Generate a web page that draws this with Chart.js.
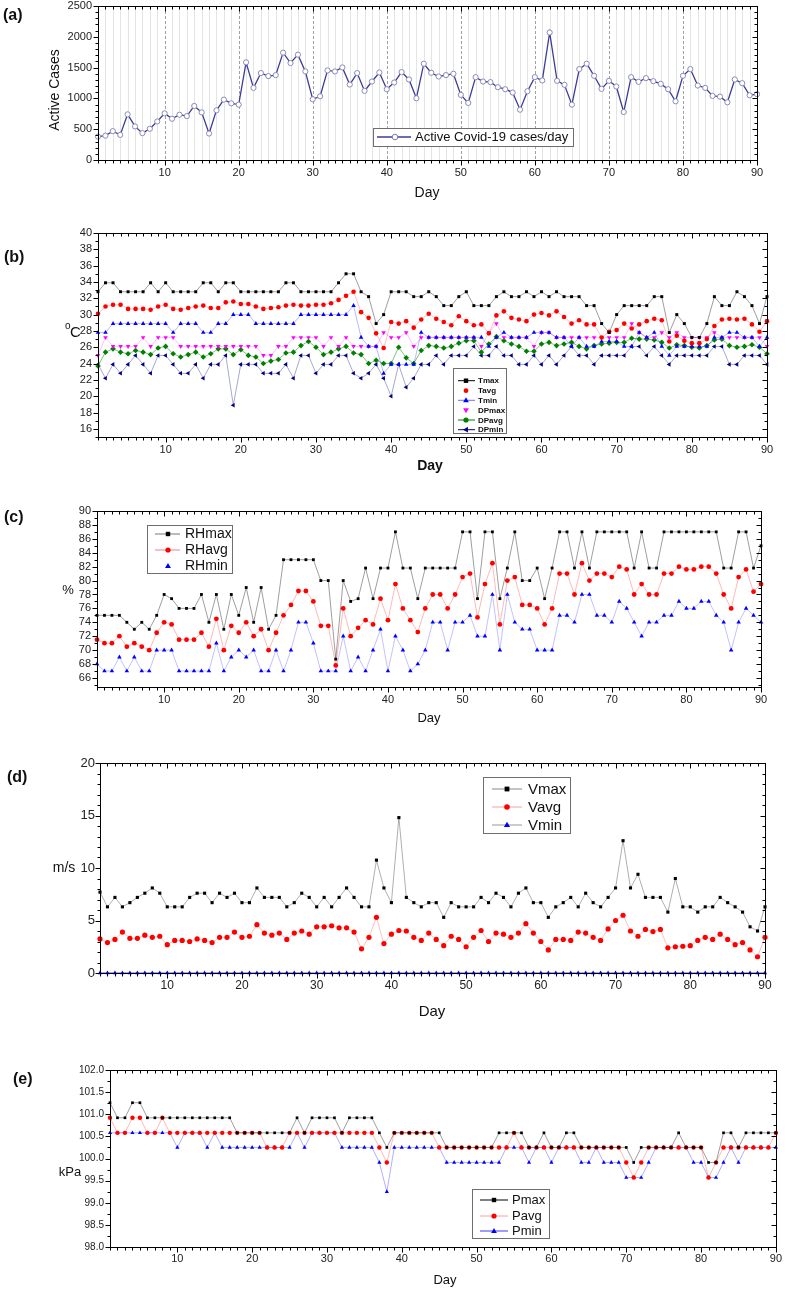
<!DOCTYPE html>
<html><head><meta charset="utf-8">
<script src="https://cdn.jsdelivr.net/npm/chart.js@4.4.1/dist/chart.umd.min.js"></script>
<style>
html,body{margin:0;padding:0;background:#fff;width:787px;height:1290px;overflow:hidden;position:relative}
canvas{position:absolute;left:0}
</style></head><body>
<canvas id="ca"></canvas>
<canvas id="cb"></canvas>
<canvas id="cc"></canvas>
<canvas id="cd"></canvas>
<canvas id="ce"></canvas>
<script>
// ---------- DATA ----------
const days = [1,2,3,4,5,6,7,8,9,10,11,12,13,14,15,16,17,18,19,20,21,22,23,24,25,26,27,28,29,30,31,32,33,34,35,36,37,38,39,40,41,42,43,44,45,46,47,48,49,50,51,52,53,54,55,56,57,58,59,60,61,62,63,64,65,66,67,68,69,70,71,72,73,74,75,76,77,78,79,80,81,82,83,84,85,86,87,88,89,90];
const xTickLabels = [10,20,30,40,50,60,70,80,90];

const activeCases = [380,395,468,408,741,545,436,507,626,757,670,735,713,877,773,430,806,980,920,899,1585,1171,1411,1362,1378,1743,1574,1710,1438,986,1035,1454,1438,1503,1225,1411,1122,1274,1421,1149,1258,1427,1307,1002,1563,1416,1356,1378,1400,1057,926,1345,1274,1264,1182,1149,1095,817,1117,1345,1291,2070,1285,1220,899,1476,1563,1367,1155,1285,1193,779,1345,1269,1329,1280,1236,1149,953,1367,1476,1209,1171,1040,1029,937,1307,1247,1051,1068];

const tmax = [32.8,33.9,33.9,32.8,32.8,32.8,32.8,33.9,32.8,33.9,32.8,32.8,32.8,32.8,33.9,33.9,32.8,33.9,33.9,32.8,32.8,32.8,32.8,32.8,32.8,33.9,33.9,32.8,32.8,32.8,32.8,32.8,33.9,35,35,32.8,32.2,28.9,30,32.8,32.8,32.8,32.2,32.2,32.8,32.2,31.1,31.1,32.2,32.8,31.1,31.1,31.1,32.2,32.8,32.2,32.2,32.8,32.2,32.8,32.2,32.8,32.2,32.2,32.2,31.1,31.1,28.9,27.8,30,31.1,31.1,31.1,31.1,32.2,32.2,27.8,30,28.9,27.2,27.2,28.9,32.2,31.1,31.1,32.8,32.2,31.1,28.9,32.2];
const tavg = [30.1,31.0,31.2,31.2,30.7,30.7,30.7,30.6,31.0,31.2,30.7,30.6,30.8,31.0,31.1,30.8,30.8,31.5,31.6,31.3,31.3,31.0,30.7,30.8,30.9,31.1,31.2,31.1,31.1,31.2,31.2,31.4,31.8,32.3,32.8,30.3,29.6,27.7,25.9,29.1,28.9,29.2,28.4,29.4,30.1,29.5,29.1,28.7,29.8,29.2,28.7,28.8,27.7,29.9,30.4,29.6,29.4,29.2,30.0,30.2,29.9,30.4,29.7,28.9,29.3,28.8,28.8,27.2,27.9,28.1,28.9,28.3,28.8,29.2,29.5,29.3,26.7,27.4,26.8,26.5,26.5,27.0,28.6,29.4,29.5,29.4,29.5,28.8,27.9,29.2];
const tmin = [27.8,27.8,28.9,28.9,28.9,28.9,28.9,28.9,28.9,28.9,27.8,28.9,28.9,28.9,27.8,27.8,28.9,28.9,30,30,30,28.9,28.9,28.9,28.9,28.9,28.9,30,30,30,30,30,30,30,31.1,27.2,26.1,26.1,22.8,23.9,23.9,23.9,23.9,27.8,27.2,27.2,27.2,27.2,27.2,27.2,27.2,27.2,26.1,27.2,27.8,27.2,27.2,27.2,27.8,27.8,27.8,27.2,27.2,26.1,27.2,26.1,26.1,26.7,26.7,26.7,26.1,26.1,27.8,27.2,27.8,26.1,25,26.1,26.1,26.1,26.1,26.1,27.2,27.2,27.8,27.8,27.2,27.2,26.1,27.2];
const dpmax = [25,27.2,26.1,26.1,26.1,26.1,27.2,26.1,27.2,27.2,27.2,26.1,26.1,26.1,26.1,26.1,26.1,26.1,26.1,26.1,26.1,26.1,25,25,26.1,26.1,27.2,27.2,27.2,27.2,26.1,27.2,26.1,27.2,26.1,26.1,26.1,26.1,27.8,27.2,27.2,27.8,26.1,27.2,27.2,27.2,27.2,27.2,27.2,27.2,27.2,26.1,27.8,28.9,27.2,27.2,27.2,27.2,26.1,27.8,27.8,27.2,27.2,27.2,27.2,27.2,27.2,27.2,27.2,27.2,27.2,28.9,27.8,27.2,27.2,27.8,27.2,27.8,27.2,27.2,27.2,27.2,27.8,27.2,27.2,27.2,27.2,27.2,27.2,26.1];
const dpavg = [23.7,25.4,25.8,25.4,25.2,25.6,25.4,25.1,25.9,26.1,25.2,24.8,25.1,25.4,24.8,25.2,25.8,25.8,25.1,25.7,25.0,24.8,24.0,24.3,24.5,25.3,25.4,26.2,26.7,26.0,25.1,25.4,25.8,26.1,25.3,25.1,24.0,24.4,24.0,24.0,26.0,24.7,24.0,25.6,26.2,26.1,25.9,26.1,26.5,26.8,26.8,25.4,26.4,27.3,26.8,26.4,26.1,25.5,25.5,26.4,26.6,26.2,26.4,26.6,26.1,25.8,26.2,26.4,26.5,26.6,26.6,27.1,27.0,27.0,26.9,26.6,25.9,26.3,26.2,26.0,25.9,26.2,26.9,27.0,26.2,26.0,26.1,26.3,26.0,25.2];
const dpmin = [23.9,22.2,23.9,22.8,23.9,25,23.9,22.8,25,25,23.9,22.8,22.8,23.9,22.2,23.9,23.9,25,18.9,23.9,23.9,23.9,22.8,22.8,22.8,23.9,22.2,25,25,22.8,23.9,23.9,25,25,22.8,22.2,22.8,23.9,22.2,20,23.9,21.1,22.2,23.9,23.9,25,23.9,25,25,25,26.1,25,25,26.1,25,25,23.9,23.9,25,23.9,25,23.9,25,26.1,25,25,23.9,25,25,25,25,26.1,26.1,25,26.1,25,23.9,25,25,25,25,25,26.1,26.1,23.9,23.9,25,25,25,23.9];

const rhmax = [75,75,75,75,74,73,74,73,75,78,77.4,76,76,76,78,74,78,73,78,75,79,74,79,73,75,83,83,83,83,83,80,80,68.7,80,77,77.4,81.8,77.4,81.8,81.8,87,81.8,81.8,77.4,81.8,81.8,81.8,81.8,81.8,87,87,77.4,87,87,77.4,81.8,87,80,80,81.8,77.4,81.8,87,87,81.8,87,81.8,87,87,87,87,87,81.8,87,81.8,81.8,87,87,87,87,87,87,87,87,81.8,81.8,87,87,81.8,85];
const rhavg = [71.5,71,71,72,70.5,71,70.5,70,72.5,74,73.7,71.5,71.5,71.5,72.5,70.5,74.5,70,73.5,72.5,74,72,73,70,72.5,75,76.5,78.5,78.5,77,73.5,73.5,67.8,76,72,73.2,74.3,73.7,77.4,74.3,79.5,76,74.3,72.6,76,78,78,76,78,80.5,81,74.7,79.5,82.5,73.7,80,80.5,76.5,76.5,76,73.7,76,81,81,78,82.5,80,81,81,80.5,82,81.6,78,79.5,78,78,81,81,82,81.6,81.6,82,82,81,78,76,80.5,81.6,78.4,79.5];
const rhmin = [68,67,67,69,67,69,67,67,70,70,70,67,67,67,67,67,71,67,69,70,69,70,67,67,70,67,70,74,74,71,67,67,67,72,67,69,67,70,73,67,72,70,67,68,70,74,74,70,74,74,75,72,72,78,70,78,74,73,73,70,70,70,75,75,74,78,78,75,75,74,77,76,74,72,74,74,75,75,77,76,76,77,77,75,74,70,74,76,75,74];

const vmax = [7.7,6.3,7.2,6.3,6.7,7.2,7.6,8.1,7.6,6.3,6.3,6.3,7.2,7.6,7.6,6.7,7.6,7.2,7.6,6.7,6.7,8.1,7.2,7.2,7.2,6.3,6.7,7.6,7.2,6.3,7.2,6.3,7.2,8.1,7.2,6.3,6.3,10.75,8.1,6.7,14.8,7.2,6.7,6.3,6.7,6.7,5.3,6.7,6.3,6.3,6.3,7.2,6.7,7.6,7.2,6.3,7.6,8.1,6.7,6.7,5.3,6.3,6.7,7.2,6.3,7.6,6.7,6.3,7.2,8.1,12.6,8.1,9.4,7.2,7.2,7.2,5.8,9.0,6.3,6.3,5.8,6.3,6.3,7.2,6.7,6.3,5.8,4.4,4.0,6.3];
const vavg = [3.25,2.9,3.2,3.9,3.3,3.3,3.6,3.4,3.5,2.7,3.1,3.1,3.0,3.25,3.1,2.9,3.4,3.4,3.9,3.4,3.5,4.6,3.8,3.6,3.8,3.2,3.8,4.0,3.7,4.4,4.4,4.5,4.3,4.3,3.9,2.3,3.4,5.3,2.8,3.7,4.05,4.0,3.4,3.1,3.8,3.2,2.6,3.5,3.2,2.5,3.4,4.05,3.0,3.8,3.7,3.4,3.8,4.7,3.8,3.0,2.2,3.2,3.2,3.1,3.9,3.8,3.4,3.1,4.2,5.0,5.5,4.0,3.5,4.15,3.95,4.15,2.4,2.5,2.55,2.6,3.1,3.4,3.2,3.7,3.2,2.7,2.9,2.2,1.55,3.4];
const vmin = [0,0,0,0,0,0,0,0,0,0,0,0,0,0,0,0,0,0,0,0,0,0,0,0,0,0,0,0,0,0,0,0,0,0,0,0,0,0,0,0,0,0,0,0,0,0,0,0,0,0,0,0,0,0,0,0,0,0,0,0,0,0,0,0,0,0,0,0,0,0,0,0,0,0,0,0,0,0,0,0,0,0,0,0,0,0,0,0,0,0];

const pmax = [101.26,100.92,100.92,101.26,101.26,100.92,100.92,100.92,100.92,100.92,100.92,100.92,100.92,100.92,100.92,100.92,100.92,100.58,100.58,100.58,100.58,100.58,100.58,100.58,100.58,100.92,100.58,100.92,100.92,100.92,100.92,100.58,100.92,100.92,100.92,100.92,100.58,100.25,100.58,100.58,100.58,100.58,100.58,100.58,100.58,100.25,100.25,100.25,100.25,100.25,100.25,100.25,100.58,100.58,100.58,100.58,100.25,100.25,100.58,100.25,100.25,100.58,100.58,100.25,100.25,100.25,100.25,100.25,100.25,100.25,99.91,100.25,100.25,100.25,100.25,100.25,100.58,100.25,100.25,100.25,99.91,99.91,100.58,100.58,100.25,100.58,100.58,100.58,100.58,100.58];
const pavg = [100.92,100.58,100.58,100.92,100.92,100.58,100.58,100.92,100.58,100.58,100.58,100.58,100.58,100.58,100.58,100.58,100.58,100.58,100.58,100.58,100.58,100.25,100.25,100.25,100.58,100.58,100.58,100.58,100.58,100.58,100.58,100.58,100.58,100.58,100.58,100.58,100.25,99.91,100.58,100.58,100.58,100.58,100.58,100.58,100.25,100.25,100.25,100.25,100.25,100.25,100.25,100.25,100.25,100.25,100.58,100.25,100.25,100.25,100.25,100.25,100.25,100.25,100.25,100.25,100.25,100.25,100.25,100.25,100.25,99.91,99.57,99.91,100.25,100.25,100.25,100.25,100.25,100.25,100.25,100.25,99.57,99.91,100.25,100.25,100.25,100.25,100.25,100.25,100.25,100.58];
const pmin = [100.58,100.58,100.58,100.58,100.58,100.58,100.58,100.58,100.58,100.25,100.58,100.58,100.58,100.25,100.58,100.25,100.25,100.25,100.25,100.25,100.25,100.25,100.25,100.25,100.25,100.58,100.25,100.58,100.58,100.58,100.58,100.25,100.25,100.25,100.25,100.25,99.91,99.25,100.25,100.25,100.25,100.25,100.25,100.25,100.25,99.91,99.91,99.91,99.91,99.91,99.91,99.91,99.91,100.25,100.25,100.25,99.91,100.25,100.25,99.91,100.25,100.25,100.25,99.91,99.91,100.25,99.91,99.91,99.91,99.57,99.57,99.57,99.91,100.25,100.25,100.25,100.25,100.25,99.91,99.91,99.57,99.57,99.91,100.25,99.91,100.25,100.25,100.25,100.25,100.25];

const yTicksA = [0,500,1000,1500,2000,2500];
const yTicksB = [16,18,20,22,24,26,28,30,32,34,36,38,40];
const yTicksC = [66,68,70,72,74,76,78,80,82,84,86,88,90];
const yTicksD = [0,5,10,15,20];
const yTicksE = [98.0,98.5,99.0,99.5,100.0,100.5,101.0,101.5,102.0];

// ---------- RENDERING ----------
const FONT = "'Liberation Sans', Arial, sans-serif";

function drawMarker(ctx, style, x, y, r, rot, fill, stroke, bw) {
  ctx.save();
  ctx.translate(x, y);
  ctx.rotate((rot || 0) * Math.PI / 180);
  ctx.beginPath();
  if (style === 'rect') { ctx.rect(-r, -r, 2*r, 2*r); }
  else if (style === 'triangle') {
    const h = r * 1.5;
    ctx.moveTo(0, -r*1.15); ctx.lineTo(r*1.1, r*0.75); ctx.lineTo(-r*1.1, r*0.75); ctx.closePath();
  } else { ctx.arc(0, 0, r, 0, Math.PI*2); }
  ctx.fillStyle = fill; ctx.fill();
  if (bw) { ctx.lineWidth = bw; ctx.strokeStyle = stroke; ctx.stroke(); }
  ctx.restore();
}

const framePlugin = {
  id: 'frame',
  beforeDatasetsDraw(chart) {
    const o = chart.options.plugins.frame;
    const {ctx, chartArea: a, scales: {x}} = chart;
    if (!o.vgrid) return;
    ctx.save();
    ctx.lineWidth = 1;
    for (const d of days) {
      const px = Math.round(x.getPixelForValue(d)) + 0.5;
      ctx.beginPath();
      if (d % 10 === 0) { ctx.strokeStyle = '#a0a0a0'; ctx.setLineDash([3, 2]); }
      else { ctx.strokeStyle = '#e4e4e4'; ctx.setLineDash([]); }
      ctx.moveTo(px, a.top); ctx.lineTo(px, a.bottom); ctx.stroke();
    }
    ctx.restore();
  },
  afterDraw(chart) {
    const o = chart.options.plugins.frame;
    const {ctx, chartArea: a, scales: {x, y}} = chart;
    const T = o.top;
    ctx.save();
    ctx.setLineDash([]);
    ctx.strokeStyle = '#000'; ctx.lineWidth = 1;
    const L = Math.round(a.left) + 0.5, R = Math.round(a.right) + 0.5,
          TP = Math.round(a.top) + 0.5, B = Math.round(a.bottom) + 0.5;
    ctx.strokeRect(L, TP, R - L, B - TP);
    ctx.beginPath();
    for (const d of days) {
      const px = Math.round(x.getPixelForValue(d)) + 0.5;
      const len = d % 10 === 0 ? 5 : 3;
      ctx.moveTo(px, B); ctx.lineTo(px, B + len);
      ctx.moveTo(px, TP); ctx.lineTo(px, TP + len);
    }
    const n = Math.round((o.yMax - o.yStart) / o.yMinor);
    for (let k = 0; k <= n; k++) {
      const v = o.yStart + k * o.yMinor;
      if (v < o.yMin - 1e-9 || v > o.yMax + 1e-9) continue;
      const py = Math.round(y.getPixelForValue(v)) + 0.5;
      const isMaj = Math.abs(v / o.yMajor - Math.round(v / o.yMajor)) < 1e-6;
      const len = isMaj ? 5 : 3;
      ctx.moveTo(L, py); ctx.lineTo(L - len, py);
      ctx.moveTo(R, py); ctx.lineTo(R - len, py);
    }
    ctx.stroke();

    ctx.fillStyle = '#111';
    // panel label
    ctx.font = 'bold 16px ' + FONT; ctx.textAlign = 'left'; ctx.textBaseline = 'middle';
    ctx.fillText(o.label.text, o.label.x, o.label.y - T);
    // x title
    ctx.font = o.xTitle.font + ' ' + FONT; ctx.textAlign = 'center';
    ctx.fillText('Day', o.xTitle.x, o.xTitle.y - T);
    // y title
    if (o.yTitle.rot) {
      ctx.save(); ctx.translate(o.yTitle.x, o.yTitle.y - T); ctx.rotate(-Math.PI / 2);
      ctx.font = o.yTitle.font + ' ' + FONT; ctx.textAlign = 'center';
      ctx.fillText(o.yTitle.text, 0, 0); ctx.restore();
    } else if (o.yTitle.sup) {
      ctx.textAlign = 'left';
      ctx.font = '10px ' + FONT; ctx.fillText(o.yTitle.sup, o.yTitle.x, o.yTitle.y - T - 7);
      ctx.font = o.yTitle.font + ' ' + FONT; ctx.fillText(o.yTitle.text, o.yTitle.x + 5, o.yTitle.y - T);
    } else {
      ctx.font = o.yTitle.font + ' ' + FONT; ctx.textAlign = 'center';
      ctx.fillText(o.yTitle.text, o.yTitle.x, o.yTitle.y - T);
    }
    // legend
    const lg = o.legend;
    ctx.strokeStyle = '#6e6e6e'; ctx.lineWidth = 1;
    ctx.fillStyle = '#fff';
    ctx.fillRect(lg.box[0], lg.box[1] - T, lg.box[2], lg.box[3]);
    ctx.strokeRect(lg.box[0] + 0.5, lg.box[1] - T + 0.5, lg.box[2], lg.box[3]);
    lg.items.forEach((it, i) => {
      const yy = lg.ys[i] - T;
      if (it.line) {
        ctx.beginPath(); ctx.strokeStyle = it.line; ctx.lineWidth = it.lw || 1;
        ctx.moveTo(lg.x1, yy); ctx.lineTo(lg.x2, yy); ctx.stroke();
      }
      drawMarker(ctx, it.ps, lg.mx, yy, it.r, it.rot, it.fill, it.stroke, it.bw);
      ctx.fillStyle = '#111'; ctx.font = lg.font + ' ' + FONT; ctx.textAlign = 'left'; ctx.textBaseline = 'middle';
      ctx.fillText(it.label, lg.tx, yy + 0.5);
    });
    ctx.restore();
  }
};

function series(arr, color, ps, r, line, extra) {
  return Object.assign({
    data: days.map((d, i) => ({x: d, y: arr[i]})),
    borderColor: line, borderWidth: 0.7, tension: 0, fill: false, clip: false,
    pointStyle: ps, pointRadius: r, pointBackgroundColor: color, pointBorderColor: color,
    pointBorderWidth: 0, pointHoverRadius: r
  }, extra || {});
}

function panel(id, top, H, P) {
  const cv = document.getElementById(id);
  cv.width = 787; cv.height = H; cv.style.top = top + 'px';
  const YW = 40, XH = 30;
  return new Chart(cv, {
    type: 'line',
    data: {datasets: P.datasets},
    options: {
      responsive: false, animation: false, devicePixelRatio: 1,
      layout: {padding: {left: P.l - YW, right: 787 - P.r, top: P.t - top, bottom: H - (P.b - top) - XH}},
      plugins: {legend: {display: false}, tooltip: {enabled: false},
        frame: Object.assign({top: top}, P.frame)},
      scales: {
        x: {type: 'linear', min: 1, max: 90,
          afterBuildTicks: s => { s.ticks = xTickLabels.map(v => ({value: v})); },
          afterFit: s => { s.height = XH; },
          grid: {display: false, drawTicks: false}, border: {display: false},
          ticks: {autoSkip: false, maxRotation: 0, padding: P.xPad, color: '#222',
            font: {family: FONT, size: P.xFont}, callback: v => String(v)}},
        y: {type: 'linear', min: P.frame.yMin, max: P.frame.yMax,
          afterBuildTicks: s => { s.ticks = P.yTicks.map(v => ({value: v})); },
          afterFit: s => { s.width = YW; },
          grid: {display: false, drawTicks: false}, border: {display: false},
          ticks: {autoSkip: false, padding: P.yPad, color: '#222',
            font: {family: FONT, size: P.yFont}, callback: P.yFmt || (v => String(v))}}
      }
    },
    plugins: [framePlugin]
  });
}

// (a)
panel('ca', -10, 225, {
  l: 98, r: 757, t: 6, b: 160, xPad: 6, yPad: 6, xFont: 11, yFont: 11, yTicks: yTicksA,
  datasets: [series(activeCases, '#ffffff', 'circle', 2.6, '#3b3b9b',
    {borderWidth: 1.3, pointBorderColor: '#8a8ab8', pointBorderWidth: 1})],
  frame: {yMin: 0, yMax: 2500, yStart: 0, yMinor: 100, yMajor: 500, vgrid: true,
    label: {text: '(a)', x: 3, y: 16},
    xTitle: {x: 427, y: 193, font: '14px'},
    yTitle: {text: 'Active Cases', x: 55, y: 90, rot: true, font: '14px'},
    legend: {box: [373, 128, 200, 18], x1: 377, x2: 411, mx: 395, tx: 415, ys: [137], font: '13px',
      items: [{label: 'Active Covid-19 cases/day', line: '#3b3b9b', lw: 1.3, ps: 'circle', r: 2.8,
        fill: '#fff', stroke: '#7c7cb0', bw: 1}]}}
});

// (b)
panel('cb', 215, 270, {
  l: 98, r: 767, t: 233, b: 437, xPad: 6, yPad: 6, xFont: 11, yFont: 11, yTicks: yTicksB,
  datasets: [
    series(tmax, '#000000', 'rect', 2.1, 'rgba(0,0,0,0.55)'),
    series(tavg, '#ff0000', 'circle', 2.3, 'rgba(255,0,0,0.35)'),
    series(tmin, '#0000ff', 'triangle', 2.6, 'rgba(0,0,255,0.4)'),
    series(dpmax, '#ff00ff', 'triangle', 2.6, 'rgba(255,0,255,0.35)', {pointRotation: 180}),
    series(dpavg, '#008000', 'rectRot', 2.8, 'rgba(0,128,0,0.7)'),
    series(dpmin, '#000080', 'triangle', 2.6, 'rgba(0,0,128,0.5)', {pointRotation: 270})
  ],
  frame: {yMin: 15, yMax: 40, yStart: 15, yMinor: 1, yMajor: 2, vgrid: false,
    label: {text: '(b)', x: 4, y: 258},
    xTitle: {x: 430, y: 466, font: 'bold 14px'},
    yTitle: {text: 'C', sup: 'o', x: 65, y: 333, font: '15px'},
    legend: {box: [453, 368, 53, 65], x1: 458, x2: 475, mx: 466, tx: 478,
      ys: [380.7, 390.7, 400.3, 410.3, 420, 429.7], font: 'bold 8px',
      items: [
        {label: 'Tmax', line: '#000', ps: 'rect', r: 2.2, fill: '#000'},
        {label: 'Tavg', ps: 'circle', r: 2.4, fill: '#ff0000'},
        {label: 'Tmin', line: '#6f6fff', ps: 'triangle', r: 2.6, fill: '#0000ff'},
        {label: 'DPmax', ps: 'triangle', r: 2.6, rot: 180, fill: '#ff00ff'},
        {label: 'DPavg', line: '#008000', ps: 'circle', r: 2.6, fill: '#008000'},
        {label: 'DPmin', line: '#000080', ps: 'triangle', r: 2.6, rot: 270, fill: '#000080'}
      ]}}
});

// (c)
panel('cc', 485, 255, {
  l: 97, r: 761, t: 511, b: 687, xPad: 6, yPad: 6, xFont: 11, yFont: 11, yTicks: yTicksC,
  datasets: [
    series(rhmax, '#000000', 'rect', 2.0, 'rgba(0,0,0,0.55)'),
    series(rhavg, '#ff0000', 'circle', 2.4, 'rgba(255,0,0,0.4)'),
    series(rhmin, '#0000ff', 'triangle', 2.6, 'rgba(0,0,255,0.35)')
  ],
  frame: {yMin: 64.7, yMax: 90, yStart: 65, yMinor: 1, yMajor: 2, vgrid: false,
    label: {text: '(c)', x: 4, y: 518},
    xTitle: {x: 429, y: 718, font: '13px'},
    yTitle: {text: '%', x: 68, y: 590, font: '13px'},
    legend: {box: [147, 525, 85, 48], x1: 155, x2: 180, mx: 168, tx: 185, ys: [534, 550, 566], font: '14px',
      items: [
        {label: 'RHmax', line: '#777', ps: 'rect', r: 2.2, fill: '#000'},
        {label: 'RHavg', line: '#f08080', ps: 'circle', r: 2.6, fill: '#ff0000'},
        {label: 'RHmin', ps: 'triangle', r: 2.7, fill: '#0000ff'}
      ]}}
});

// (d)
panel('cd', 740, 285, {
  l: 100, r: 765, t: 763, b: 973, xPad: 5, yPad: 5, xFont: 12, yFont: 13, yTicks: yTicksD,
  datasets: [
    series(vmax, '#000000', 'rect', 2.2, 'rgba(0,0,0,0.45)'),
    series(vavg, '#ff0000', 'circle', 2.6, 'rgba(255,0,0,0.35)'),
    series(vmin, '#0000ff', 'triangle', 2.5, 'rgba(0,0,255,0.7)', {borderWidth: 1})
  ],
  frame: {yMin: 0, yMax: 20, yStart: 0, yMinor: 1, yMajor: 5, vgrid: false,
    label: {text: '(d)', x: 7, y: 778},
    xTitle: {x: 432, y: 1012, font: '15px'},
    yTitle: {text: 'm/s', x: 64, y: 868, font: '14px'},
    legend: {box: [483, 777, 87, 56], x1: 492, x2: 522, mx: 507, tx: 528, ys: [789, 807, 825], font: '15px',
      items: [
        {label: 'Vmax', line: '#888', ps: 'rect', r: 2.4, fill: '#000'},
        {label: 'Vavg', line: '#f4a0a0', ps: 'circle', r: 2.8, fill: '#ff0000'},
        {label: 'Vmin', line: '#999', ps: 'triangle', r: 2.8, fill: '#0000ff'}
      ]}}
});

// (e)
panel('ce', 1025, 265, {
  l: 110, r: 779, t: 1070, b: 1247, xPad: 5, yPad: 6, xFont: 11, yFont: 10, yTicks: yTicksE,
  yFmt: v => Number(v).toFixed(1),
  datasets: [
    series(pmax, '#000000', 'rect', 1.9, 'rgba(0,0,0,0.55)'),
    series(pavg, '#ff0000', 'circle', 2.2, 'rgba(255,0,0,0.4)'),
    series(pmin, '#0000ff', 'triangle', 2.4, 'rgba(0,0,255,0.45)')
  ],
  frame: {yMin: 98, yMax: 102, yStart: 98, yMinor: 0.25, yMajor: 0.5, vgrid: false,
    label: {text: '(e)', x: 13, y: 1080},
    xTitle: {x: 445, y: 1280, font: '13px'},
    yTitle: {text: 'kPa', x: 70, y: 1172, font: '13px'},
    legend: {box: [472, 1189, 77, 49], x1: 480, x2: 508, mx: 494, tx: 512, ys: [1200, 1216, 1231], font: '13px',
      items: [
        {label: 'Pmax', line: '#000', ps: 'rect', r: 2.2, fill: '#000'},
        {label: 'Pavg', line: '#f4a0a0', ps: 'circle', r: 2.6, fill: '#ff0000'},
        {label: 'Pmin', line: '#3a3aff', ps: 'triangle', r: 2.6, fill: '#0000ff'}
      ]}}
});
</script>
</body></html>
